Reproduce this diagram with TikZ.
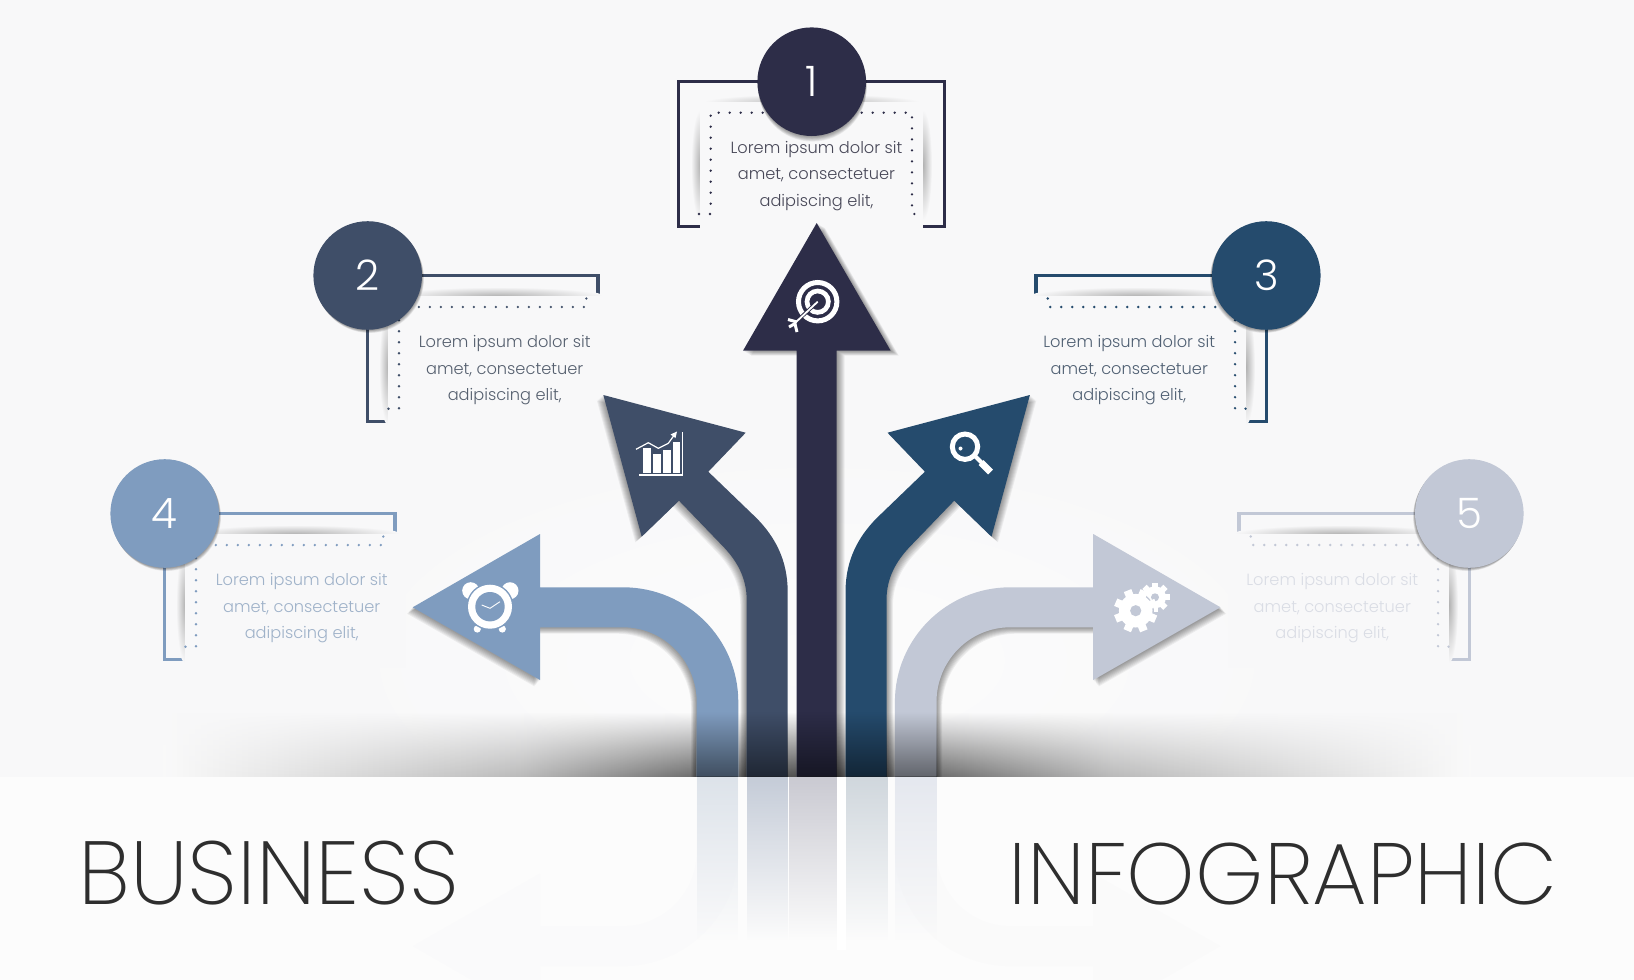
\documentclass[tikz,border=0pt]{standalone}
\usepackage{fontspec}
\usepackage{graphicx}
\usetikzlibrary{fadings}
\setmainfont{Poppins}
\newfontfamily\bodyfont{Poppins Light}
\newfontfamily\titlefont{Poppins ExtraLight}

\definecolor{paper}{HTML}{F8F8F9}
\definecolor{floor}{HTML}{FCFCFC}
\definecolor{navy}{HTML}{2D2D48}
\definecolor{slate}{HTML}{3F4E68}
\definecolor{ocean}{HTML}{254B6D}
\definecolor{steel}{HTML}{7F9CBF}
\definecolor{mist}{HTML}{C2C8D6}
\definecolor{inknavy}{HTML}{484858}
\definecolor{inkslate}{HTML}{56606F}
\definecolor{inkocean}{HTML}{506073}
\definecolor{inksteel}{HTML}{9FB2C9}
\definecolor{inkmist}{HTML}{DADDE5}
\definecolor{echosteel}{HTML}{DDE3EA}
\definecolor{echoslate}{HTML}{C5CCD8}
\definecolor{echonavy}{HTML}{CACAD2}
\definecolor{echoocean}{HTML}{D0D7DD}
\definecolor{echomist}{HTML}{E5E8EF}

\tikzfading[name=fadedown, top color=transparent!100, bottom color=transparent!0]
\tikzfading[name=fadeglow, top color=transparent!100, middle color=transparent!72, bottom color=transparent!0]
\tikzfading[name=fadeecho, top color=transparent!0, middle color=transparent!55, bottom color=transparent!100]
\pgfdeclarehorizontalshading{floorbar}{100bp}{color(0bp)=(black!2); color(25bp)=(black!2); color(30.75bp)=(black!12); color(38.75bp)=(black!27); color(45.5bp)=(black!58); color(50bp)=(black!72); color(54.5bp)=(black!58); color(61.25bp)=(black!27); color(69.25bp)=(black!12); color(75bp)=(black!2); color(100bp)=(black!2)}

\tikzset{
    stepball/.style={circle, fill=#1, minimum size=108.6pt, inner sep=0pt, text=white, font=\bodyfont\fontsize{42}{42}\selectfont},
    stepline/.style={draw=#1, line width=3.4pt, miter limit=10},
    dotline/.style={draw=#1, line width=2.6pt, line cap=round, dash pattern=on 0pt off 11pt},
    steptext/.style={text=#1, align=center, inner sep=0pt, font=\bodyfont\fontsize{16.2}{26.5}\selectfont},
    edgeglow/.style={inner color=black!30, outer color=paper},
    titletext/.style={inner sep=0pt, text=black!82, font=\titlefont\fontsize{90}{90}\selectfont},
}

\newcommand{\arrowone}{(816.7,223) -- (890.7,350.7) -- (836.7,350.7) -- (836.7,776.7) -- (796.7,776.7) -- (796.7,350.7) -- (743,350.7) -- cycle}
\newcommand{\arrowtwo}{(603.3,395) -- (745.7,432.7) -- (708.3,471.7) -- (756.7,518.3) .. controls (775,537) and (787.7,560) .. (787.7,592) -- (787.7,776.7) -- (746.7,776.7) -- (746.7,600) .. controls (746.7,578) and (737,561) .. (723.3,546.7) -- (679,500.7) -- (641.7,536.7) -- cycle}
\newcommand{\arrowfour}{(412.7,607.3) -- (540,534) -- (540,587.3) -- (623,587.3) .. controls (686.7,587.3) and (738.3,638.6) .. (738.3,702) -- (738.3,776.7) -- (696.7,776.7) -- (696.7,702) .. controls (696.7,661) and (664,627.3) .. (623,627.3) -- (540,627.3) -- (540,680) -- cycle}
\newcommand{\softshadow}[3]{\foreach \s in {1,...,8}{\fill[black, opacity=.055, shift={(\s*#2,\s*#3)}] #1;}}

\newcommand{\sidecard}[5]{
    \begin{scope}[#1]
        \coordinate (corner#2) at (164.7,513.5);
        \draw[stepline=#3] (395,534) |- (corner#2) |- (185,659.3);
        \shade[edgeglow] (295,534) ellipse (105 and 9);
        \shade[edgeglow] (185,605) ellipse (9 and 58);
        \fill[paper] (185,534) rectangle (406,668);
        \draw[dotline=#3] (185.5,646.7) -- (196,646.7) -- (196,545) -- (383.3,545) -- (383.3,534);
        \node [steptext=#4](text#2) at (301.7,608.5){Lorem ipsum dolor sit\\amet, consectetuer\\adipiscing elit,};
        \softshadow{(164.7,513.5) circle (54.3)}{0.25}{0.4}
        \node [stepball=#3](ball#2) at (corner#2){#5};
    \end{scope}
}

\begin{document}
\begin{tikzpicture}[x=1pt,y=-1pt]
    \useasboundingbox (0,0) rectangle (1634,980);
    \fill[paper] (0,0) rectangle (1634,980);
    \shade[inner color=floor, outer color=paper] (816.6,660) ellipse (500 and 220);

    \shade[shading=floorbar, path fading=fadeglow] (163,712) rectangle (1471,776.7);
    \fill[floor] (0,776.7) rectangle (1634,980);

    \begin{scope}
        \clip (0,776.7) rectangle (1634,980);
        \begin{scope}[yshift=-1553.4pt, yscale=-1]
            \fill[steel, opacity=.015] \arrowfour;
            \begin{scope}[xshift=1633.2pt, xscale=-1]
                \fill[mist, opacity=.03] \arrowfour;
            \end{scope}
        \end{scope}
    \end{scope}
    \fill[white] (837,776.7) rectangle (846,950);
    \foreach \a/\b/\c in {696.7/738.3/echosteel,746.7/787.7/echoslate,789/836.7/echonavy,846/888/echoocean,895/936.7/echomist}{
        \fill[\c, path fading=fadeecho] (\a,776.7) rectangle (\b,940);
    }

    \coordinate (cornerA) at (811.7,81.7);
    \draw[stepline=navy] (700,226.5) -- (678.7,226.5) -- (678.7,81.7) -- (944.5,81.7) -- (944.5,226.5) -- (923,226.5);
    \shade[edgeglow] (811.7,102) ellipse (108 and 8);
    \shade[edgeglow] (700,165) ellipse (9 and 55);
    \shade[edgeglow] (923,165) ellipse (9 and 55);
    \fill[paper] (700,102) rectangle (923,236);
    \draw[dotline=navy] (699,214) -- (710.7,214) -- (710.7,112.7) -- (912,112.7) -- (912,214) -- (923,214);
    \node [steptext=inknavy](text1) at (816.5,176){Lorem ipsum dolor sit\\amet, consectetuer\\adipiscing elit,};
    \softshadow{(811.7,81.7) circle (54.3)}{0.1}{0.7}
    \node [stepball=navy](ball1) at (cornerA){1};

    \sidecard{shift={(203,-238)}}{B}{slate}{inkslate}{2}
    \sidecard{xshift=1634pt, xscale=-1, shift={(203,-238)}}{C}{ocean}{inkocean}{3}
    \sidecard{}{D}{steel}{inksteel}{4}
    \sidecard{xshift=1634pt, xscale=-1}{E}{mist}{inkmist}{5}

    \begin{scope}
        \clip (0,0) rectangle (1634,776.7);
        \softshadow{\arrowfour}{-0.7}{0.8}
        \fill[steel] \arrowfour;
        \begin{scope}[xshift=1633.2pt, xscale=-1]
            \softshadow{\arrowfour}{-0.7}{0.8}
            \fill[mist] \arrowfour;
            \softshadow{\arrowtwo}{-0.8}{0.7}
            \fill[ocean] \arrowtwo;
        \end{scope}
        \softshadow{\arrowtwo}{-0.8}{0.7}
        \fill[slate] \arrowtwo;
        \softshadow{\arrowone}{1}{0.6}
        \fill[navy] \arrowone;
    \end{scope}

    \foreach \a/\b in {696.7/738.3,746.7/787.7,796.7/836.7,845.7/886.7,895/936.7}{
        \fill[black, opacity=.5, path fading=fadedown] (\a,712) rectangle (\b,776.7);
    }

    \draw[white, line width=5pt] (817.7,301.7) circle (19.2);
    \draw[white, line width=4.7pt] (817.7,301.7) circle (10.7);
    \draw[navy, line width=3.6pt] (817.7,301.7) -- (797,321);
    \draw[white, line width=1.8pt] (817.7,301.7) -- (795,323);
    \draw[white, line width=3pt] (797,322) -- (788,319.5);
    \draw[white, line width=3pt] (796,323) -- (789,327);
    \draw[white, line width=3pt] (795,324) -- (797,332);

    \fill[white] (643.3,448) rectangle (650.7,472.7);
    \fill[white] (653.3,454) rectangle (660.7,472.7);
    \fill[white] (663.3,450) rectangle (670.7,472.7);
    \fill[white] (672.7,441.7) rectangle (680,472.7);
    \draw[white, line width=1.3pt] (639,475) -- (682.7,475) -- (682.7,431.7);
    \draw[white, line width=1.2pt] (636,449.3) -- (648.3,442.7) -- (658.3,448.3) -- (668.3,443.3) -- (675,434);
    \fill[white] (677,431.5) -- (670.5,434.5) -- (675.5,438) -- cycle;

    \draw[white, line width=5pt] (965,446.7) circle (12.7);
    \draw[white, line width=4pt] (975,456) -- (982,463);
    \draw[white, line width=7pt] (981,462.5) -- (990.5,472);
    \fill[white] (960.5,448.5) circle (2);

    \fill[white] (470.7,590.7) circle (8.5);
    \fill[white] (510,590.7) circle (8.5);
    \fill[white] (477.3,629) circle (3.6);
    \fill[white] (502.3,629) circle (3.6);
    \fill[steel] (490,606.7) circle (23.5);
    \fill[white] (490,606.7) circle (22);
    \fill[steel] (490,606.7) circle (14.7);
    \draw[white, line width=.9pt] (481.7,605) -- (490,608.3) -- (500,601.7);

    \foreach \a in {0,45,...,315}{
        \fill[white, rotate around={\a:(1155,597.3)}] (1152,582.5) rectangle (1158,590);
    }
    \fill[white] (1155,597.3) circle (11);
    \fill[mist] (1155,597.3) circle (4);
    \fill[mist] (1135.7,610.7) circle (18.2);
    \foreach \a in {0,45,...,315}{
        \fill[white, rotate around={\a+22:(1135.7,610.7)}] (1131.7,589) rectangle (1139.7,597);
    }
    \fill[white] (1135.7,610.7) circle (16.8);
    \fill[mist] (1135.7,610.7) circle (5.6);

    \node [titletext, anchor=base west](title1) at (78,904){\resizebox{381pt}{!}{BUSINESS}};
    \node [titletext, anchor=base east](title2) at (1558,904){\resizebox{549pt}{!}{INFOGRAPHIC}};
\end{tikzpicture}
\end{document}
